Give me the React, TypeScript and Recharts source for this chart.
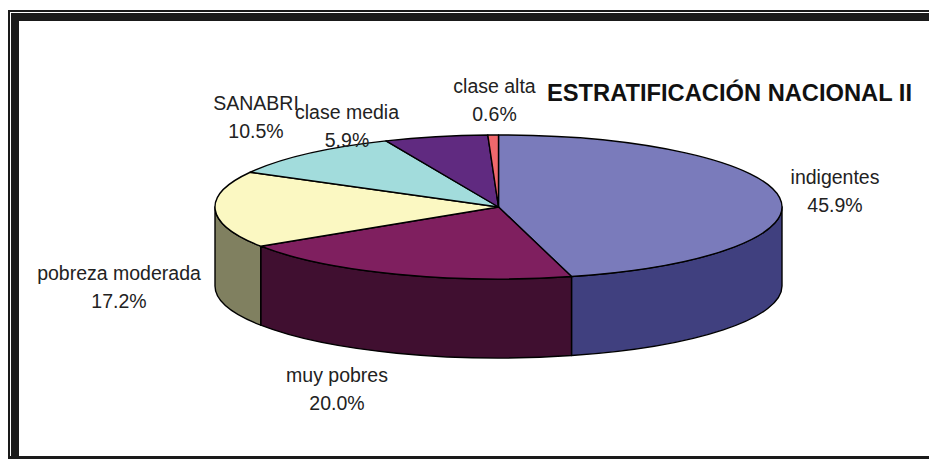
import { PieChart, Pie } from "recharts";

const categories = ["indigentes", "muy pobres", "pobreza moderada", "SANABRI", "clase media", "clase alta"];
const shares = [45.9, 20.0, 17.2, 10.5, 5.9, 0.6];
const topColors = ["#7A7BBB", "#7F1F5F", "#FBF8C2", "#A2DCDC", "#602A80", "#F0686C"];
const wallColors = ["#40407F", "#400F30", "#808060", "#6A9090", "#3A1850", "#A04048"];

const pieData = categories.map((name, i) => ({ name, value: shares[i], fill: topColors[i], wall: wallColors[i] }));

// label centres, in the order of categories
const labelX = [835, 337, 119, 256, 347, 494.5];
const labelY = [184, 382, 280, 110, 119, 93];

const CX = 498.5;
const CY = 207;
const RX = 283.5;
const RY = 72;
const DEPTH = 79;
const FRAME = "#1a1a1a";

const px = (a: number) => CX + RX * Math.cos((a * Math.PI) / 180);
const py = (a: number) => CY - RY * Math.sin((a * Math.PI) / 180);

// flattened slice, the library gives the angles
function TopSlice(props: any) {
  const { startAngle: s, endAngle: e, fill } = props;
  const large = s - e > 180 ? 1 : 0;
  const d = `M${CX},${CY} L${px(s)},${py(s)} A${RX},${RY} 0 ${large} 1 ${px(e)},${py(e)} Z`;
  return <path d={d} fill={fill} stroke="#000" strokeWidth={1.4} strokeLinejoin="round" />;
}

// outer wall, only the part on the front half of the ellipse is visible
function WallSlice(props: any) {
  const s = Math.min(props.startAngle, 0);
  const e = Math.max(props.endAngle, -180);
  if (s <= e) return <g />;
  const d =
    `M${px(s)},${py(s)} A${RX},${RY} 0 0 1 ${px(e)},${py(e)} ` +
    `L${px(e)},${py(e) + DEPTH} A${RX},${RY} 0 0 0 ${px(s)},${py(s) + DEPTH} Z`;
  return <path d={d} fill={props.wall} stroke="#000" strokeWidth={1.4} strokeLinejoin="round" />;
}

function SliceLabel(props: any) {
  const { index, value, name } = props;
  return (
    <text x={labelX[index]} y={labelY[index]} textAnchor="middle" fontFamily="'Liberation Sans'" fontSize={19.5} fill="#222">
      <tspan x={labelX[index]}>{name}</tspan>
      <tspan x={labelX[index]} dy={27.5}>{value.toFixed(1)}%</tspan>
    </text>
  );
}

const bar = (left: number, top: number, width: number, height: number) => (
  <div style={{ position: "absolute", left, top, width, height, background: FRAME }} />
);

export default function App() {
  return (
    <div style={{ position: "absolute", left: 0, top: 0, width: 929, height: 459, background: "#fff", overflow: "hidden" }}>
      {bar(8, 10, 921, 2)}
      {bar(8, 10, 2, 449)}
      {bar(11, 13, 918, 8)}
      {bar(11, 13, 8, 446)}
      {bar(8, 456, 921, 3)}
      <div style={{ position: "absolute", left: 0, top: 0 }}>
        <PieChart width={929} height={459} margin={{ top: 0, right: 0, bottom: 0, left: 0 }}>
          <Pie
            data={pieData}
            dataKey="value"
            nameKey="name"
            cx={CX}
            cy={CY}
            outerRadius={RX}
            startAngle={90}
            endAngle={-270}
            shape={WallSlice}
            isAnimationActive={false}
          />
          <Pie
            data={pieData}
            dataKey="value"
            nameKey="name"
            cx={CX}
            cy={CY}
            outerRadius={RX}
            startAngle={90}
            endAngle={-270}
            shape={TopSlice}
            label={SliceLabel}
            labelLine={false}
            isAnimationActive={false}
          />
          <text x={547} y={101} fontFamily="'Liberation Sans'" fontWeight="bold" fontSize={23.7} fill="#111">
            ESTRATIFICACIÓN NACIONAL II
          </text>
        </PieChart>
      </div>
    </div>
  );
}
